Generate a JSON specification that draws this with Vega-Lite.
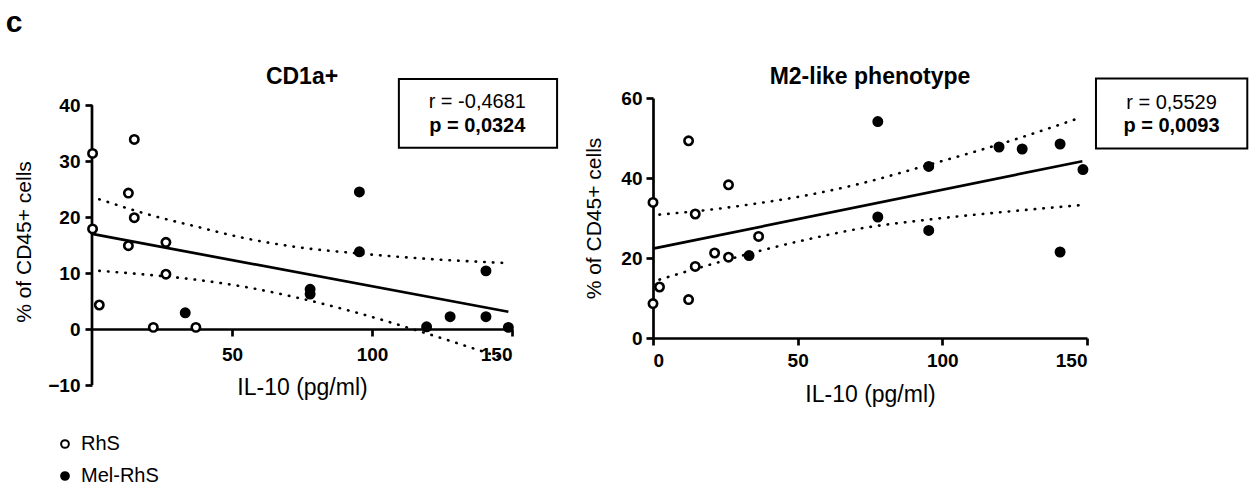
{
  "$schema": "https://vega.github.io/schema/vega-lite/v6.json",
  "padding": {"left": 5, "top": 7, "right": 0, "bottom": 0},
  "background": "white",
  "title": {"text": "c", "anchor": "start", "fontSize": 30, "fontWeight": "bold", "offset": 28, "dx": -8, "color": "black"},
  "config": {
    "font": "Liberation Sans",
    "view": {"stroke": null},
    "axis": {
      "grid": false, "domainColor": "black", "tickColor": "black", "labelColor": "black", "titleColor": "black",
      "domainWidth": 2.7, "tickWidth": 2.7, "tickSize": 7, "labelFont": "Liberation Sans", "labelFontWeight": "bold",
      "labelFontSize": 19, "titleFont": "Liberation Sans", "titleFontWeight": "normal", "titleFontSize": 21, "labelPadding": 3
    },
    "legend": {
      "labelFont": "Liberation Sans", "labelFontSize": 20, "labelColor": "black", "symbolStrokeColor": "black",
      "symbolStrokeWidth": 2, "symbolSize": 60, "rowPadding": 12, "labelOffset": 6
    },
    "concat": {"spacing": 24}
  },
  "hconcat": [
    {
      "width": 420, "height": 287,
      "title": {"text": "CD1a+", "fontSize": 23, "fontWeight": "bold", "offset": -11.5, "frame": "group", "color": "black"},
      "layer": [
        {
          "data": {"values": [
            {"x": 2.6, "y": 23.2, "b": "u"}, {"x": 20, "y": 20.5, "b": "u"}, {"x": 37.4, "y": 18.3, "b": "u"}, {"x": 55, "y": 16.2, "b": "u"},
            {"x": 72.5, "y": 14.7, "b": "u"}, {"x": 95.5, "y": 13.5, "b": "u"}, {"x": 118.3, "y": 12.6, "b": "u"}, {"x": 148, "y": 11.8, "b": "u"},
            {"x": 2.6, "y": 10.4, "b": "l"}, {"x": 20, "y": 9.7, "b": "l"}, {"x": 37.4, "y": 8.8, "b": "l"}, {"x": 55, "y": 7.5, "b": "l"},
            {"x": 72.5, "y": 5.7, "b": "l"}, {"x": 95.5, "y": 2.8, "b": "l"}, {"x": 118.3, "y": -0.6, "b": "l"}, {"x": 148, "y": -5.4, "b": "l"}
          ]},
          "mark": {"type": "line", "color": "black", "strokeWidth": 2.6, "strokeDash": [0.5, 8.2], "strokeCap": "round", "interpolate": "monotone"},
          "encoding": {
            "x": {"field": "x", "type": "quantitative", "scale": {"domain": [0, 150], "nice": false, "zero": false},
                  "axis": {"values": [50, 100, 150], "offset": -56, "title": "IL-10 (pg/ml)", "titlePadding": 12, "labelPadding": 9, "titleFontSize": 23}},
            "y": {"field": "y", "type": "quantitative", "scale": {"domain": [-10, 41.3], "nice": false, "zero": false},
                  "axis": {"values": [-10, 0, 10, 20, 30, 40], "title": "% of CD45+ cells", "titlePadding": 13, "labelPadding": 5, "domain": false}},
            "detail": {"field": "b"}
          }
        },
        {
          "data": {"values": [{"x": 0, "y": -10, "y2": 40}]},
          "mark": {"type": "rule", "color": "black", "strokeWidth": 2.7},
          "encoding": {"x": {"field": "x", "type": "quantitative"}, "y": {"field": "y", "type": "quantitative"}, "y2": {"field": "y2"}}
        },
        {
          "data": {"values": [{"x": 0, "y": 17.0}, {"x": 148.7, "y": 3.1}]},
          "mark": {"type": "line", "color": "black", "strokeWidth": 2.7},
          "encoding": {"x": {"field": "x", "type": "quantitative"}, "y": {"field": "y", "type": "quantitative"}}
        },
        {
          "data": {"values": [
            {"x": 0.2, "y": 31.4, "g": "RhS"}, {"x": 15.1, "y": 33.9, "g": "RhS"}, {"x": 13.0, "y": 24.3, "g": "RhS"}, {"x": 15.1, "y": 19.9, "g": "RhS"},
            {"x": 0.2, "y": 17.9, "g": "RhS"}, {"x": 13.0, "y": 14.9, "g": "RhS"}, {"x": 26.4, "y": 15.5, "g": "RhS"}, {"x": 26.4, "y": 9.8, "g": "RhS"},
            {"x": 2.6, "y": 4.3, "g": "RhS"}, {"x": 21.9, "y": 0.3, "g": "RhS"}, {"x": 37.1, "y": 0.3, "g": "RhS"},
            {"x": 33.3, "y": 2.9, "g": "Mel-RhS"}, {"x": 95.5, "y": 24.5, "g": "Mel-RhS"}, {"x": 95.5, "y": 13.8, "g": "Mel-RhS"},
            {"x": 77.9, "y": 7.1, "g": "Mel-RhS"}, {"x": 77.9, "y": 6.25, "g": "Mel-RhS"}, {"x": 140.7, "y": 10.4, "g": "Mel-RhS"},
            {"x": 119.5, "y": 0.4, "g": "Mel-RhS"}, {"x": 127.9, "y": 2.2, "g": "Mel-RhS"}, {"x": 140.7, "y": 2.2, "g": "Mel-RhS"},
            {"x": 148.7, "y": 0.3, "g": "Mel-RhS"}
          ]},
          "mark": {"type": "point", "shape": "circle", "filled": true, "stroke": "black", "strokeWidth": 2.6, "size": 70, "opacity": 1},
          "encoding": {
            "x": {"field": "x", "type": "quantitative"}, "y": {"field": "y", "type": "quantitative"},
            "fill": {"field": "g", "type": "nominal", "scale": {"domain": ["RhS", "Mel-RhS"], "range": ["white", "black"]},
                     "legend": {"title": null, "orient": "none", "direction": "vertical", "legendX": -37, "legendY": 336}}
          }
        },
        {
          "data": {"values": [{"x": 109.6, "x2": 166.1, "y": 44.7, "y2": 32.4}]},
          "mark": {"type": "rect", "fill": "white", "stroke": "black", "strokeWidth": 2},
          "encoding": {"x": {"field": "x", "type": "quantitative"}, "x2": {"field": "x2"}, "y": {"field": "y", "type": "quantitative"}, "y2": {"field": "y2"}}
        },
        {
          "data": {"values": [{"x": 137.6, "y": 40.6, "t": "r = -0,4681"}]},
          "mark": {"type": "text", "fontSize": 20, "color": "black", "baseline": "middle", "align": "center"},
          "encoding": {"x": {"field": "x", "type": "quantitative"}, "y": {"field": "y", "type": "quantitative"}, "text": {"field": "t"}}
        },
        {
          "data": {"values": [{"x": 137.6, "y": 36.3, "t": "p = 0,0324"}]},
          "mark": {"type": "text", "fontSize": 20, "fontWeight": "bold", "color": "black", "baseline": "middle", "align": "center"},
          "encoding": {"x": {"field": "x", "type": "quantitative"}, "y": {"field": "y", "type": "quantitative"}, "text": {"field": "t"}}
        }
      ]
    },
    {
      "width": 434, "height": 240,
      "title": {"text": "M2-like phenotype", "fontSize": 23, "fontWeight": "bold", "offset": -11.5, "frame": "group", "color": "black"},
      "layer": [
        {
          "data": {"values": [
            {"x": 2.25, "y": 30.85, "b": "u"}, {"x": 20, "y": 32.1, "b": "u"}, {"x": 37, "y": 33.75, "b": "u"}, {"x": 54, "y": 35.8, "b": "u"},
            {"x": 71.1, "y": 38.5, "b": "u"}, {"x": 95.3, "y": 43.3, "b": "u"}, {"x": 119.6, "y": 48.4, "b": "u"}, {"x": 146.5, "y": 54.8, "b": "u"},
            {"x": 2.25, "y": 14.6, "b": "l"}, {"x": 20, "y": 18.4, "b": "l"}, {"x": 37, "y": 21.8, "b": "l"}, {"x": 54, "y": 24.75, "b": "l"},
            {"x": 71.1, "y": 27.3, "b": "l"}, {"x": 95.3, "y": 29.6, "b": "l"}, {"x": 119.6, "y": 31.4, "b": "l"}, {"x": 147.5, "y": 33.2, "b": "l"}
          ]},
          "mark": {"type": "line", "color": "black", "strokeWidth": 2.6, "strokeDash": [0.5, 8.2], "strokeCap": "round", "interpolate": "monotone"},
          "encoding": {
            "x": {"field": "x", "type": "quantitative", "scale": {"domain": [0, 150], "nice": false, "zero": false},
                  "axis": {"values": [0, 50, 100, 150], "title": "IL-10 (pg/ml)", "titlePadding": 13, "labelPadding": 6, "titleFontSize": 23}},
            "y": {"field": "y", "type": "quantitative", "scale": {"domain": [0, 60], "nice": false, "zero": false},
                  "axis": {"values": [0, 20, 40, 60], "title": "% of CD45+ cells", "titlePadding": 16, "labelPadding": 4}},
            "detail": {"field": "b"}
          }
        },
        {
          "data": {"values": [{"x": 0, "y": 22.35}, {"x": 148.4, "y": 44.2}]},
          "mark": {"type": "line", "color": "black", "strokeWidth": 2.7},
          "encoding": {"x": {"field": "x", "type": "quantitative"}, "y": {"field": "y", "type": "quantitative"}}
        },
        {
          "data": {"values": [
            {"x": 12.3, "y": 49.3, "g": "RhS"}, {"x": 0, "y": 33.9, "g": "RhS"}, {"x": 26.1, "y": 38.3, "g": "RhS"}, {"x": 14.6, "y": 31.0, "g": "RhS"},
            {"x": 36.5, "y": 25.4, "g": "RhS"}, {"x": 21.3, "y": 21.25, "g": "RhS"}, {"x": 26.1, "y": 20.2, "g": "RhS"}, {"x": 14.6, "y": 17.9, "g": "RhS"},
            {"x": 2.25, "y": 12.75, "g": "RhS"}, {"x": 12.3, "y": 9.6, "g": "RhS"}, {"x": 0, "y": 8.6, "g": "RhS"},
            {"x": 33.2, "y": 20.6, "g": "Mel-RhS"}, {"x": 77.7, "y": 54.1, "g": "Mel-RhS"}, {"x": 77.7, "y": 30.25, "g": "Mel-RhS"},
            {"x": 95.3, "y": 42.9, "g": "Mel-RhS"}, {"x": 95.3, "y": 26.9, "g": "Mel-RhS"}, {"x": 119.6, "y": 47.75, "g": "Mel-RhS"},
            {"x": 127.6, "y": 47.25, "g": "Mel-RhS"}, {"x": 140.7, "y": 48.5, "g": "Mel-RhS"}, {"x": 140.7, "y": 21.5, "g": "Mel-RhS"},
            {"x": 148.6, "y": 42.1, "g": "Mel-RhS"}
          ]},
          "mark": {"type": "point", "shape": "circle", "filled": true, "stroke": "black", "strokeWidth": 2.6, "size": 70, "opacity": 1},
          "encoding": {
            "x": {"field": "x", "type": "quantitative"}, "y": {"field": "y", "type": "quantitative"},
            "fill": {"field": "g", "type": "nominal", "scale": {"domain": ["RhS", "Mel-RhS"], "range": ["white", "black"]}}
          }
        },
        {
          "data": {"values": [{"x": 153.1, "x2": 205.4, "y": 64.9, "y2": 47.4}]},
          "mark": {"type": "rect", "fill": "white", "stroke": "black", "strokeWidth": 2},
          "encoding": {"x": {"field": "x", "type": "quantitative"}, "x2": {"field": "x2"}, "y": {"field": "y", "type": "quantitative"}, "y2": {"field": "y2"}}
        },
        {
          "data": {"values": [{"x": 179.2, "y": 58.75, "t": "r = 0,5529"}]},
          "mark": {"type": "text", "fontSize": 20, "color": "black", "baseline": "middle", "align": "center"},
          "encoding": {"x": {"field": "x", "type": "quantitative"}, "y": {"field": "y", "type": "quantitative"}, "text": {"field": "t"}}
        },
        {
          "data": {"values": [{"x": 179.2, "y": 52.9, "t": "p = 0,0093"}]},
          "mark": {"type": "text", "fontSize": 20, "fontWeight": "bold", "color": "black", "baseline": "middle", "align": "center"},
          "encoding": {"x": {"field": "x", "type": "quantitative"}, "y": {"field": "y", "type": "quantitative"}, "text": {"field": "t"}}
        }
      ]
    }
  ]
}
